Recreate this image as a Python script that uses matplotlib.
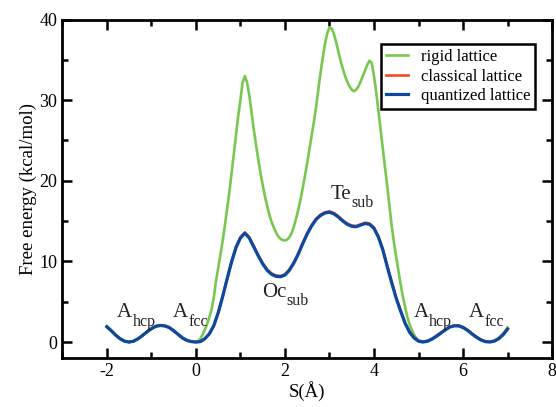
import matplotlib
matplotlib.use('Agg')
import matplotlib.pyplot as plt
from matplotlib.ticker import MultipleLocator
import numpy as np

# ----------
# Data
# ----------
# quantized / classical: step 0.1 Å from -2 to 7
s = np.round(np.arange(-2.0, 7.0001, 0.1), 2)

quantized = [
    1.9, 1.4, 0.85, 0.4, 0.1, 0.0, 0.1, 0.4, 0.8, 1.25,          # -2.0 .. -1.1
    1.65, 1.95, 2.05, 2.0, 1.8, 1.4, 0.95, 0.5, 0.2, 0.05,       # -1.0 .. -0.1
    0.0, 0.05, 0.4, 1.0, 2.0, 3.6, 5.6, 7.8, 9.9, 11.7,          # 0.0 .. 0.9
    12.9, 13.5, 12.9, 11.8, 10.7, 9.7, 8.9, 8.4, 8.15, 8.1,      # 1.0 .. 1.9
    8.3, 8.9, 9.8, 10.9, 12.2, 13.4, 14.4, 15.2, 15.7, 16.0,     # 2.0 .. 2.9
    16.1, 15.9, 15.5, 15.0, 14.6, 14.35, 14.3, 14.5, 14.7, 14.6, # 3.0 .. 3.9
    14.1, 13.0, 11.4, 9.3, 7.3, 5.4, 3.8, 2.3, 1.2, 0.5,         # 4.0 .. 4.9
    0.1, 0.0, 0.1, 0.35, 0.7, 1.1, 1.5, 1.85, 2.0, 2.0,          # 5.0 .. 5.9
    1.8, 1.45, 1.0, 0.6, 0.25, 0.05, 0.0, 0.1, 0.4, 0.9,         # 6.0 .. 6.9
    1.6,                                                         # 7.0
]

classical = [
    1.9, 1.4, 0.85, 0.4, 0.1, 0.0, 0.1, 0.4, 0.8, 1.25,
    1.65, 1.95, 2.05, 2.0, 1.8, 1.4, 0.95, 0.5, 0.2, 0.05,
    0.0, 0.05, 0.4, 1.0, 2.0, 3.6, 5.6, 7.8, 9.9, 11.8,
    13.0, 13.6, 13.0, 11.9, 10.8, 9.8, 9.0, 8.5, 8.25, 8.2,
    8.4, 9.0, 9.9, 11.0, 12.3, 13.5, 14.5, 15.3, 15.8, 16.1,
    16.2, 16.0, 15.6, 15.1, 14.7, 14.45, 14.4, 14.6, 14.8, 14.7,
    14.2, 13.1, 11.5, 9.4, 7.4, 5.5, 3.9, 2.4, 1.3, 0.6,
    0.15, 0.05, 0.15, 0.4, 0.75, 1.15, 1.55, 1.9, 2.05, 2.05,
    1.85, 1.5, 1.05, 0.65, 0.3, 0.1, 0.05, 0.15, 0.45, 0.95,
    1.65,
]

# rigid: finer step (0.05 Å) between 0 and 5 where it is steep
s_rigid = np.round(np.concatenate([np.arange(-2.0, -0.05, 0.1),
                                   np.arange(0.0, 5.0001, 0.05),
                                   np.arange(5.1, 7.0001, 0.1)]), 2)

rigid = [
    1.95, 1.45, 0.9, 0.45, 0.12, 0.0, 0.12, 0.42, 0.82, 1.28,    # -2.0 .. -1.1
    1.7, 2.0, 2.1, 2.05, 1.85, 1.45, 1.0, 0.55, 0.22, 0.06,      # -1.0 .. -0.1
    0.0, 0.1, 0.4, 0.9, 1.5, 2.2, 3.0, 4.0, 5.4, 7.5,            # 0.00 .. 0.45
    9.1, 10.8, 12.5, 14.4, 16.4, 18.5, 20.8, 23.2, 25.6, 28.0,   # 0.50 .. 0.95
    30.0, 32.2, 33.0, 32.2, 30.6, 28.5, 26.4, 24.5, 22.7, 21.0,  # 1.00 .. 1.45
    19.5, 18.1, 16.9, 15.8, 14.9, 14.2, 13.6, 13.1, 12.8, 12.65, # 1.50 .. 1.95
    12.6, 12.7, 13.0, 13.5, 14.3, 15.3, 16.4, 17.7, 19.1, 20.6,  # 2.00 .. 2.45
    22.2, 23.9, 25.6, 27.3, 29.2, 31.3, 33.4, 35.3, 37.0, 38.3,  # 2.50 .. 2.95
    39.0, 38.9, 38.2, 37.2, 36.0, 34.9, 33.9, 33.0, 32.3, 31.7,  # 3.00 .. 3.45
    31.3, 31.1, 31.3, 31.7, 32.3, 33.0, 33.7, 34.4, 34.9, 34.6,  # 3.50 .. 3.95
    33.0, 31.0, 28.6, 26.2, 23.9, 21.6, 19.2, 16.7, 14.3, 12.3,  # 4.00 .. 4.45
    10.5, 8.8, 7.1, 5.6, 4.3, 3.1, 2.2, 1.5, 0.9, 0.5,           # 4.50 .. 4.95
    0.2,                                                         # 5.00
    0.02, 0.12, 0.38, 0.75, 1.15, 1.55, 1.9, 2.05, 2.05,         # 5.1 .. 5.9
    1.85, 1.5, 1.05, 0.65, 0.3, 0.08, 0.02, 0.15, 0.5, 1.05,     # 6.0 .. 6.9
    1.8,                                                         # 7.0
]

series_names = ['rigid lattice', 'classical lattice', 'quantized lattice']

# site labels: (main, subscript, S, energy)
labels = [
    ('A', 'hcp', -1.77, 3.1),
    ('A', 'fcc', -0.52, 3.1),
    ('Oc', 'sub', 1.48, 5.6),
    ('Te', 'sub', 3.02, 17.8),
    ('A', 'hcp', 4.89, 3.1),
    ('A', 'fcc', 6.13, 3.1),
]

# ----------
# Plot
# ----------
plt.rcParams['font.family'] = ['Liberation Serif', 'DejaVu Serif']
plt.rcParams['axes.unicode_minus'] = False  # plain hyphen like the original

fig = plt.figure(figsize=(5.56, 4.07), dpi=100)
ax = fig.add_axes([0.112, 0.12, 0.881, 0.832])

ax.plot(s_rigid, rigid, color='#78c850', lw=1.9, label=series_names[0])
ax.plot(s, classical, color='#f04a28', lw=1.9, label=series_names[1])
ax.plot(s, quantized, color='#0b4aa0', lw=2.3, label=series_names[2])

for main, sub, xx, yy in labels:
    t = ax.text(xx, yy, main, fontsize=15, color='#222222', ha='left', va='baseline')
    ax.annotate(sub, xy=(1, 0), xycoords=t, xytext=(0.3, -2.5), textcoords='offset points',
                fontsize=11.5, color='#222222', ha='left', va='baseline')

ax.set_xlim(-3, 8)
ax.set_ylim(-2, 40)
ax.xaxis.set_major_locator(MultipleLocator(2))
ax.xaxis.set_minor_locator(MultipleLocator(1))
ax.yaxis.set_major_locator(MultipleLocator(10))
ax.yaxis.set_minor_locator(MultipleLocator(5))
ax.tick_params(which='both', direction='in', top=True, right=True, width=1.8, labelsize=13)
ax.tick_params(which='major', length=7)
ax.tick_params(which='minor', length=4)
for sp in ax.spines.values():
    sp.set_linewidth(2.0)

ax.set_xlabel('S(Å)', fontsize=13.5, labelpad=1)
ax.set_ylabel('Free energy (kcal/mol)', fontsize=13.5, labelpad=2)

leg = ax.legend(loc='upper right', bbox_to_anchor=(0.966, 0.927), borderaxespad=0, fontsize=12,
                fancybox=False, framealpha=1, edgecolor='black',
                handlelength=1.3, borderpad=0.3, labelspacing=0.2, handletextpad=0.8)
leg.get_frame().set_linewidth(1.8)

plt.savefig('out.png', dpi=100)
plt.close()
